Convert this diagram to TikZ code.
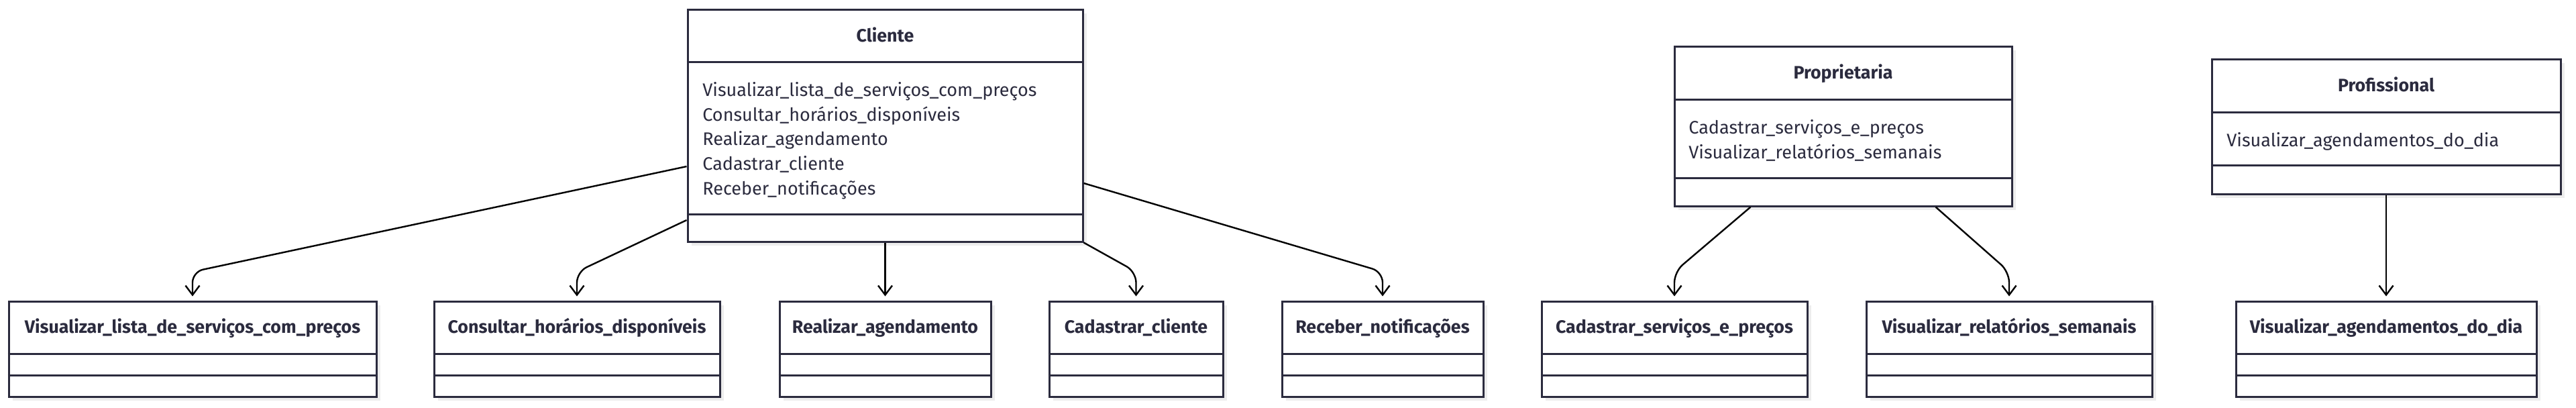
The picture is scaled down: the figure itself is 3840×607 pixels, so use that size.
\documentclass[tikz,border=0pt]{standalone}
\usepackage{fontspec}
\setmainfont{Fira Sans}
\usetikzlibrary{arrows.meta,shadows,calc}
\definecolor{ink}{HTML}{2B2B3E}
\definecolor{shd}{HTML}{EDEDED}
\begin{document}
\begin{tikzpicture}[x=0.5pt,y=-0.5pt,
  cls/.style={rectangle, draw=ink, line width=1.5pt, fill=white, inner sep=0pt,
    general shadow={fill=shd, shadow xshift=3pt, shadow yshift=-3pt}},
  ttl/.style={font=\bfseries\fontsize{13.4}{15}\selectfont, text=ink, inner sep=0pt, anchor=base},
  attr/.style={font=\fontsize{13.5}{15}\selectfont, text=ink, anchor=base west, inner sep=0pt},
  divl/.style={draw=ink, line width=1.5pt},
  rel/.style={draw=black, line width=1.2pt, rounded corners=8pt, shorten >=3pt,
    -{Straight Barb[length=7pt,width=10.5pt,line width=1.2pt]}}]
\useasboundingbox (0,0) rectangle (3840,607);

% ---------- Cliente ----------
\node[cls, minimum width=294.5pt, minimum height=173pt] (cliente) at (1319.5,187) {};
\draw[divl] (cliente.west |- 0,92) -- (cliente.east |- 0,92);
\draw[divl] (cliente.west |- 0,319) -- (cliente.east |- 0,319);
\node[ttl] (clientet) at (1319.5,62) {Cliente};
\node[attr] (ca1) at (1047,143) {Visualizar\_lista\_de\_serviços\_com\_preços};
\node[attr] (ca2) at (1047,180) {Consultar\_horários\_disponíveis};
\node[attr] (ca3) at (1047,216) {Realizar\_agendamento};
\node[attr] (ca4) at (1047,253) {Cadastrar\_cliente};
\node[attr] (ca5) at (1047,290) {Receber\_notificações};

% ---------- Proprietaria ----------
\node[cls, minimum width=251.5pt, minimum height=119pt] (prop) at (2747.5,188) {};
\draw[divl] (prop.west |- 0,148) -- (prop.east |- 0,148);
\draw[divl] (prop.west |- 0,265) -- (prop.east |- 0,265);
\node[ttl] (propt) at (2747.5,117) {Proprietaria};
\node[attr] (pa1) at (2517,199) {Cadastrar\_serviços\_e\_preços};
\node[attr] (pa2) at (2517,236) {Visualizar\_relatórios\_semanais};

% ---------- Profissional ----------
\node[cls, minimum width=260pt, minimum height=100.5pt] (prof) at (3557,188.5) {};
\draw[divl] (prof.west |- 0,167) -- (prof.east |- 0,167);
\draw[divl] (prof.west |- 0,246) -- (prof.east |- 0,246);
\node[ttl] (proft) at (3557,136) {Profissional};
\node[attr] (fa1) at (3319,218) {Visualizar\_agendamentos\_do\_dia};

% ---------- bottom classes ----------
\foreach \nm/\cx/\w/\lbl in {
  vlista/287/274/{Visualizar\_lista\_de\_serviços\_com\_preços},
  consultar/860/213/{Consultar\_horários\_disponíveis},
  realizar/1319.5/157.5/{Realizar\_agendamento},
  cadcli/1693.5/129.5/{Cadastrar\_cliente},
  receber/2061/150/{Receber\_notificações},
  cadserv/2496/198/{Cadastrar\_serviços\_e\_preços},
  relat/2995/213/{Visualizar\_relatórios\_semanais},
  agend/3557/224/{Visualizar\_agendamentos\_do\_dia}}{
  \node[cls, minimum width=\w pt, minimum height=71pt] (\nm) at (\cx,520) {};
  \draw[divl] (\nm.west |- 0,527) -- (\nm.east |- 0,527);
  \draw[divl] (\nm.west |- 0,559) -- (\nm.east |- 0,559);
  \node[ttl] (\nm t) at (\cx,496.5) {\lbl};
}

% ---------- relations ----------
\draw[rel] ([yshift=-30.5pt]cliente.west) -- (vlista.north |- 0,405) -- (vlista.north);
\draw[rel] ([yshift=-70.5pt]cliente.west) -- (consultar.north |- 0,405) -- (consultar.north);
\draw[rel] (cliente.south) -- (realizar.north);
\draw[rel] (cliente.south east) -- (cadcli.north |- 0,405) -- (cadcli.north);
\draw[rel] ([yshift=-43pt]cliente.east) -- (receber.north |- 0,405) -- (receber.north);
\draw[rel] ([xshift=-69pt]prop.south) -- (cadserv.north |- 0,405) -- (cadserv.north);
\draw[rel] ([xshift=69pt]prop.south) -- (relat.north |- 0,405) -- (relat.north);
\draw[rel] (prof.south) -- (agend.north);
\end{tikzpicture}
\end{document}
